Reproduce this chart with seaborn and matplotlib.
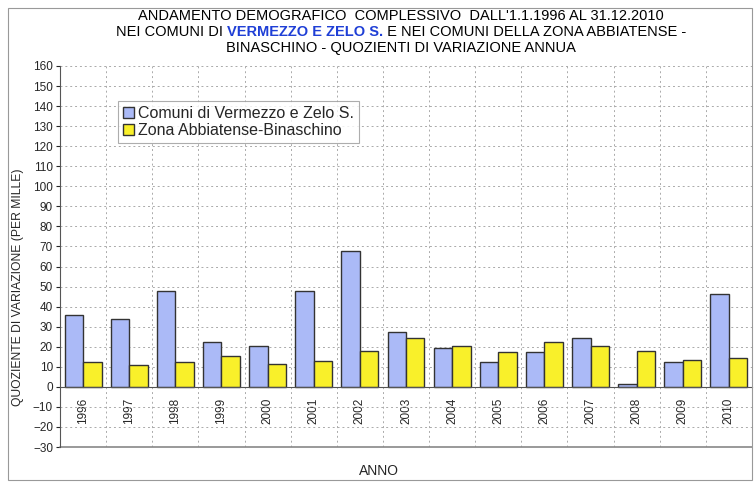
import numpy as np
import matplotlib
matplotlib.use('Agg')
import matplotlib.pyplot as plt
import pandas as pd
import seaborn as sns
from matplotlib.patches import Rectangle

years = ['1996', '1997', '1998', '1999', '2000', '2001', '2002', '2003',
         '2004', '2005', '2006', '2007', '2008', '2009', '2010']
vermezzo = [36, 34, 48, 22.3, 20.2, 48, 67.8, 27.2, 19.2, 12.2, 17.5, 24.3, 1.5, 12.2, 46.5]
abbiatense = [12.5, 11, 12.2, 15.5, 11.2, 13, 17.7, 24.2, 20.3, 17.3, 22.3, 20.2, 17.7, 13.2, 14.2]
series_names = ['Comuni di Vermezzo e Zelo S.', 'Zona Abbiatense-Binaschino']
colors = ['#abbaf7', '#f9f02a']

df = pd.DataFrame({
    'anno': years * 2,
    'valore': vermezzo + abbiatense,
    'serie': [series_names[0]] * len(years) + [series_names[1]] * len(years),
})

sns.set_style('white')
plt.rcParams['font.family'] = ['Liberation Sans', 'DejaVu Sans']

fig = plt.figure(figsize=(7.56, 4.84), dpi=100)
ax = fig.add_axes([60 / 756, 37 / 484, 692 / 756, 381 / 484])

sns.barplot(data=df, x='anno', y='valore', hue='serie', palette=colors, saturation=1,
            width=0.8, edgecolor='#333333', linewidth=1.0, ax=ax, legend=True)

ax.set_ylim(-30, 160)
ax.set_xlim(-0.5, len(years) - 0.5)
ax.set_yticks(np.arange(-30, 161, 10))
ax.tick_params(axis='y', labelsize=8.5, length=3, direction='out', left=True, pad=2)
ax.set_xlabel('')
ax.set_ylabel('')

# category boundary grid + zero axis
ax.set_xticks(np.arange(-0.5, len(years), 1), minor=True)
grid_kw = dict(color='#aaaaaa', linestyle=(0, (2, 3)), linewidth=0.7)
ax.grid(True, which='minor', axis='x', **grid_kw)
ax.grid(True, which='major', axis='y', **grid_kw)
ax.set_axisbelow(True)
ax.spines['bottom'].set_position(('data', 0))
ax.spines['bottom'].set_color('#555555')
ax.spines['top'].set_visible(False)
ax.spines['right'].set_color('#888888')
ax.spines['right'].set_linewidth(0.7)
ax.spines['left'].set_color('#555555')
ax.axhline(-30, color='#888888', linewidth=1.2, clip_on=False)
ax.tick_params(axis='x', which='major', length=0, labelsize=8.5, labelrotation=90, pad=8)
ax.tick_params(axis='x', which='minor', length=4, direction='out', color='#555555')

leg = ax.legend(loc='upper left', bbox_to_anchor=(58 / 692, 1 - 35 / 381), borderaxespad=0,
                fontsize=11.5, frameon=True, fancybox=False, edgecolor='#999999',
                handlelength=0.7, handleheight=0.7, handletextpad=0.25, borderpad=0.3,
                labelspacing=0.15)
leg.get_frame().set_linewidth(0.8)

fig.text(18 / 756, 1 - 287 / 484, 'QUOZIENTE DI VARIAZIONE (PER MILLE)', rotation=90,
         ha='center', va='center', fontsize=8.7)
fig.text(379 / 756, 1 - 471 / 484, 'ANNO', ha='center', va='center', fontsize=10)

# outer border
fig.patches.append(Rectangle((8 / 756, 4 / 484), 744 / 756, 472 / 484, transform=fig.transFigure,
                             fill=False, edgecolor='#999999', linewidth=0.8))

# title, with coloured segment in the second line
title_lines = [
    [("ANDAMENTO DEMOGRAFICO  COMPLESSIVO  DALL'1.1.1996 AL 31.12.2010", 'black', 'normal')],
    [('NEI COMUNI DI ', 'black', 'normal'), ('VERMEZZO E ZELO S.', '#1f3fd6', 'bold'),
     (' E NEI COMUNI DELLA ZONA ABBIATENSE -', 'black', 'normal')],
    [('BINASCHINO - QUOZIENTI DI VARIAZIONE ANNUA', 'black', 'normal')],
]
title_y = [16, 32, 48]
cx = 401
renderer = fig.canvas.get_renderer()
for parts, y in zip(title_lines, title_y):
    texts = [fig.text(0, 1 - y / 484, s, color=c, fontweight=w, fontsize=10.5,
                      ha='left', va='center')
             for s, c, w in parts]
    widths = [t.get_window_extent(renderer).width for t in texts]
    x = cx - sum(widths) / 2
    for t, wd in zip(texts, widths):
        t.set_x(x / 756)
        x += wd

fig.savefig('out.png', dpi=100)
